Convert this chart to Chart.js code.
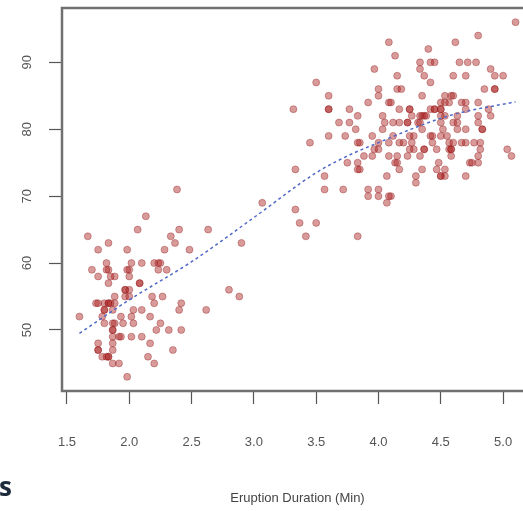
<!DOCTYPE html>
<html>
<head>
<meta charset="utf-8">
<script src="https://cdn.jsdelivr.net/npm/chart.js@4"></script>
<style>
  html, body { margin: 0; padding: 0; background: #fff; overflow: hidden; }
  #wrap { position: relative; width: 523px; height: 511px; overflow: hidden; }
  #cut { position: absolute; left: -1px; top: 468px; font: bold 26px "Open Sans", sans-serif; color: #1e2b3a; }
</style>
</head>
<body>
<div id="wrap">
  <canvas id="chart" width="545" height="511"></canvas>
  <div id="cut">s</div>
</div>
<script>
// Old Faithful: eruption duration (min) vs waiting time (min)
const eruptions = [
  3.600,1.800,3.333,2.283,4.533,2.883,4.700,3.600,1.950,4.350,
  1.833,3.917,4.200,1.750,4.700,2.167,1.750,4.800,1.600,4.250,
  1.800,1.750,3.450,3.067,4.533,3.600,1.967,4.083,3.850,4.433,
  4.300,4.467,3.367,4.033,3.833,2.017,1.867,4.833,1.833,4.783,
  4.350,1.883,4.567,1.750,4.533,3.317,3.833,2.100,4.633,2.000,
  4.800,4.716,1.833,4.833,1.733,4.883,3.717,1.667,4.567,4.317,
  2.233,4.500,1.750,4.800,1.817,4.400,4.167,4.700,2.067,4.700,
  4.033,1.967,4.500,4.000,1.983,5.067,2.017,4.567,3.883,3.600,
  4.133,4.333,4.100,2.633,4.067,4.933,3.950,4.517,2.167,4.000,
  2.200,4.333,1.867,4.817,1.833,4.300,4.667,3.750,1.867,4.900,
  2.483,4.367,2.100,4.500,4.050,1.867,4.700,1.783,4.850,3.683,
  4.733,2.300,4.900,4.417,1.700,4.633,2.317,4.600,1.817,4.417,
  2.617,4.067,4.250,1.967,4.600,3.767,1.917,4.500,2.267,4.650,
  1.867,4.167,2.800,4.333,1.833,4.383,1.883,4.933,2.033,3.733,
  4.233,2.233,4.533,4.817,4.333,1.983,4.633,2.017,5.100,1.800,
  5.033,4.000,2.400,4.600,3.567,4.000,4.500,4.083,1.800,3.967,
  2.200,4.150,2.000,3.833,3.500,4.583,2.367,5.000,1.933,4.617,
  1.917,2.083,4.583,3.333,4.167,4.333,4.500,2.417,4.000,4.167,
  1.883,4.583,4.250,3.767,2.033,4.433,4.083,1.833,4.417,2.183,
  4.800,1.833,4.800,4.100,3.966,4.233,3.500,4.366,2.250,4.667,
  2.100,4.350,4.133,1.867,4.600,1.783,4.367,3.850,1.933,4.500,
  2.383,4.700,1.867,3.833,3.417,4.233,2.400,4.800,2.000,4.150,
  1.867,4.267,1.750,4.483,4.000,4.117,4.083,4.267,3.917,4.550,
  4.083,2.417,4.183,2.217,4.450,1.883,1.850,4.283,3.950,2.333,
  4.150,2.350,4.933,2.900,4.583,3.833,2.083,4.367,2.133,4.350,
  2.200,4.450,3.567,4.500,4.150,3.817,3.917,4.450,2.000,4.283,
  4.767,4.533,1.850,4.250,1.983,2.250,4.750,4.117,2.150,4.417,
  1.817,4.467
];
const waiting = [
  79,54,74,62,85,55,88,85,51,85,
  54,84,78,47,83,52,62,84,52,79,
  51,47,78,69,74,83,55,76,78,79,
  73,77,66,80,74,52,48,80,59,90,
  80,58,84,58,73,83,64,53,82,59,
  75,90,54,80,54,83,71,64,77,81,
  59,84,48,82,60,92,78,78,65,73,
  82,56,79,71,62,76,60,78,76,83,
  75,82,70,65,73,88,76,80,48,86,
  60,90,50,78,63,72,84,75,51,82,
  62,88,49,83,81,47,84,52,86,81,
  75,59,89,79,59,81,50,85,59,87,
  53,69,77,56,88,81,45,82,55,90,
  45,83,56,89,46,82,51,86,53,79,
  81,60,82,77,76,59,80,49,96,53,
  77,77,65,81,71,70,81,93,53,89,
  45,86,58,78,66,76,63,88,52,93,
  49,57,77,68,81,81,73,50,85,74,
  55,77,83,83,51,78,84,46,83,55,
  81,57,76,84,77,81,87,77,51,78,
  60,82,91,53,78,46,77,74,49,83,
  71,80,49,75,64,76,53,94,55,76,
  50,82,54,75,78,79,78,78,70,79,
  70,54,86,50,90,54,54,77,79,64,
  75,47,86,63,85,82,57,82,67,74,
  54,83,73,73,88,80,71,83,56,79,
  78,84,58,83,43,60,75,81,46,90,
  46,74
];

// smoothed trend
const trendX = [1.6, 2.0, 2.5, 3.0, 3.5, 3.75, 4.0, 4.33, 4.6, 5.1];
const trendY = [49.5, 54.5, 60.2, 66.8, 73.5, 76.0, 78.0, 80.5, 82.2, 84.1];

const xTicks = [1.5, 2.0, 2.5, 3.0, 3.5, 4.0, 4.5, 5.0];
const yTicks = [50, 60, 70, 80, 90];
const xTitle = "Eruption Duration (Min)";

const points = eruptions.map((e, i) => ({ x: e, y: waiting[i] }));
const trend = trendX.map((x, i) => ({ x, y: trendY[i] }));

const framePlugin = {
  id: "frame",
  afterDraw(chart) {
    const { ctx, chartArea: a, scales } = chart;
    ctx.save();
    ctx.strokeStyle = "#707070";
    ctx.lineWidth = 2.5;
    ctx.strokeRect(a.left, a.top, a.right - a.left, a.bottom - a.top);
    // R-style vertical y tick labels
    ctx.fillStyle = "#555";
    ctx.font = "13px 'Liberation Sans', Arial, sans-serif";
    ctx.textAlign = "center";
    ctx.textBaseline = "middle";
    for (const v of yTicks) {
      const y = scales.y.getPixelForValue(v);
      ctx.save();
      ctx.translate(27, y);
      ctx.rotate(-Math.PI / 2);
      ctx.fillText(String(v), 0, 0);
      ctx.restore();
    }
    ctx.restore();
  }
};

new Chart(document.getElementById("chart").getContext("2d"), {
  data: {
    datasets: [
      {
        type: "scatter",
        data: points,
        backgroundColor: "rgba(170,30,30,0.45)",
        borderColor: "rgba(140,20,20,0.35)",
        borderWidth: 1,
        pointRadius: 3.5,
        order: 2
      },
      {
        type: "line",
        data: trend,
        borderColor: "#5068c8",
        borderWidth: 1.5,
        borderDash: [3, 3],
        pointRadius: 0,
        cubicInterpolationMode: "monotone",
        fill: false,
        order: 1
      }
    ]
  },
  options: {
    responsive: false,
    animation: false,
    devicePixelRatio: 1,
    layout: { padding: { top: 8, right: 12, left: 0, bottom: 0 } },
    plugins: { legend: { display: false }, tooltip: { enabled: false } },
    scales: {
      x: {
        type: "linear",
        min: 1.46,
        max: 5.24,
        afterBuildTicks: s => { s.ticks = xTicks.map(v => ({ value: v })); },
        afterFit: s => { s.height = 120; },
        border: { display: false },
        grid: { drawOnChartArea: false, drawTicks: true, tickLength: 13, color: "#555", tickWidth: 1.2 },
        ticks: {
          padding: 31,
          color: "#555",
          font: { family: "'Liberation Sans', Arial, sans-serif", size: 13 },
          maxRotation: 0,
          callback: v => v.toFixed(1)
        },
        title: {
          display: true,
          text: xTitle,
          color: "#444",
          font: { family: "'Liberation Sans', Arial, sans-serif", size: 13 },
          padding: { top: 0, bottom: 5 }
        }
      },
      y: {
        type: "linear",
        min: 40.88,
        max: 98.12,
        afterBuildTicks: s => { s.ticks = yTicks.map(v => ({ value: v })); },
        afterFit: s => { s.width = 62; },
        border: { display: false },
        grid: { drawOnChartArea: false, drawTicks: true, tickLength: 13, color: "#555", tickWidth: 1.2 },
        ticks: { display: false }
      }
    }
  },
  plugins: [framePlugin]
});
</script>
</body>
</html>
